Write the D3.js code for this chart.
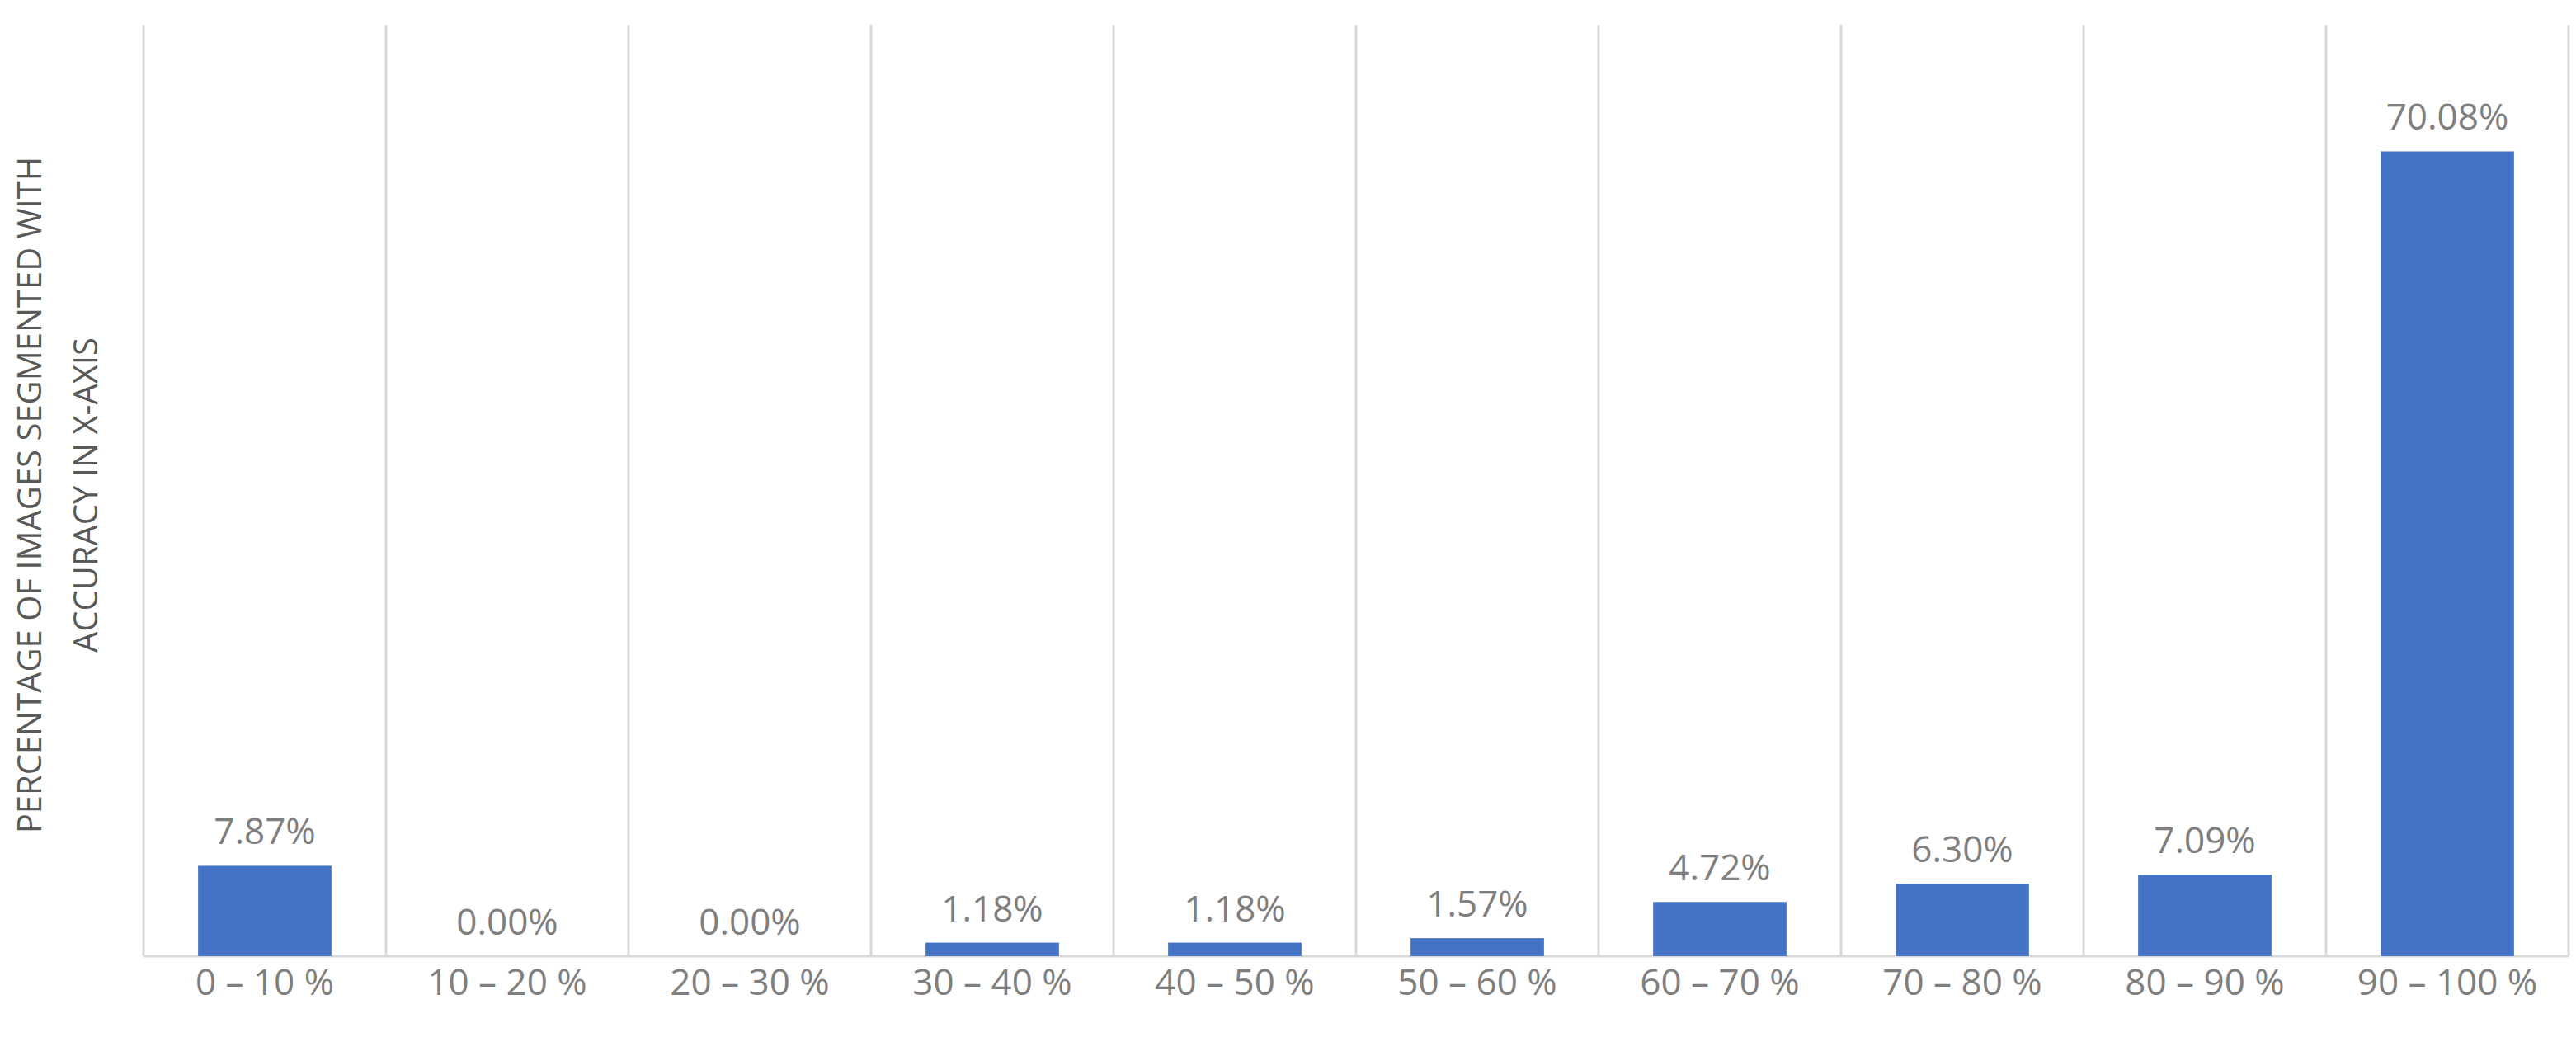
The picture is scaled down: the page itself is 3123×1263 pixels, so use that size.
<!DOCTYPE html>
<html><head><meta charset="utf-8">
<script src="https://cdn.jsdelivr.net/npm/d3@7"></script>
<style>body{margin:0;background:#fff}</style></head>
<body><svg id="c" width="3123" height="1263"></svg>
<script>
const categories = ["0 – 10 %","10 – 20 %","20 – 30 %","30 – 40 %","40 – 50 %","50 – 60 %","60 – 70 %","70 – 80 %","80 – 90 %","90 – 100 %"];
const values = [7.87,0,0,1.18,1.18,1.57,4.72,6.30,7.09,70.08];
const yTitle = ["PERCENTAGE OF IMAGES SEGMENTED WITH","ACCURACY  IN X-AXIS"];

const svg = d3.select("#c");
const pLeft = 174, pRight = 3114, pBase = 1159, pTop = 30;
const x = d3.scaleBand().domain(categories).range([pLeft, pRight]).paddingInner(0.45).paddingOuter(0.225);
const y = d3.scaleLinear().domain([0, 80]).range([pBase, pBase - 80*6.96*2]);
const g = svg.append("g");
d3.range(categories.length+1).forEach(i=>{
  const gx = pLeft + i*(pRight-pLeft)/categories.length;
  g.append("line").attr("x1",gx).attr("x2",gx).attr("y1",pTop).attr("y2",pBase).attr("stroke","#d9d9d9").attr("stroke-width",3);
});
g.append("line").attr("x1",pLeft).attr("x2",pRight).attr("y1",pBase).attr("y2",pBase).attr("stroke","#d9d9d9").attr("stroke-width",3);
g.selectAll("rect").data(values).join("rect")
 .attr("x",(d,i)=>x(categories[i])).attr("width",x.bandwidth())
 .attr("y",d=>y(d)).attr("height",d=>pBase-y(d)).attr("fill","#4472C4");
g.selectAll("text.v").data(values).join("text").attr("class","v")
 .attr("x",(d,i)=>x(categories[i])+x.bandwidth()/2).attr("y",d=>y(d)-26)
 .attr("text-anchor","middle").attr("font-family","Open Sans, sans-serif").attr("font-size",44).attr("fill","#7f7f7f")
 .text(d=>d.toFixed(2)+"%");
const xa = svg.append("g").attr("transform",`translate(0,${pBase})`).call(d3.axisBottom(x).tickSize(0).tickPadding(16));
xa.select(".domain").remove();
xa.selectAll("text").attr("font-family","Open Sans, sans-serif").attr("font-size",44).attr("fill","#7f7f7f");
yTitle.forEach((t,i)=>{
  svg.append("text").attr("transform",`translate(${50+i*68},${600}) rotate(-90)`)
   .attr("text-anchor","middle").attr("font-family","Open Sans, sans-serif").attr("font-size",40).attr("fill","#595959").text(t);
});
</script></body></html>
